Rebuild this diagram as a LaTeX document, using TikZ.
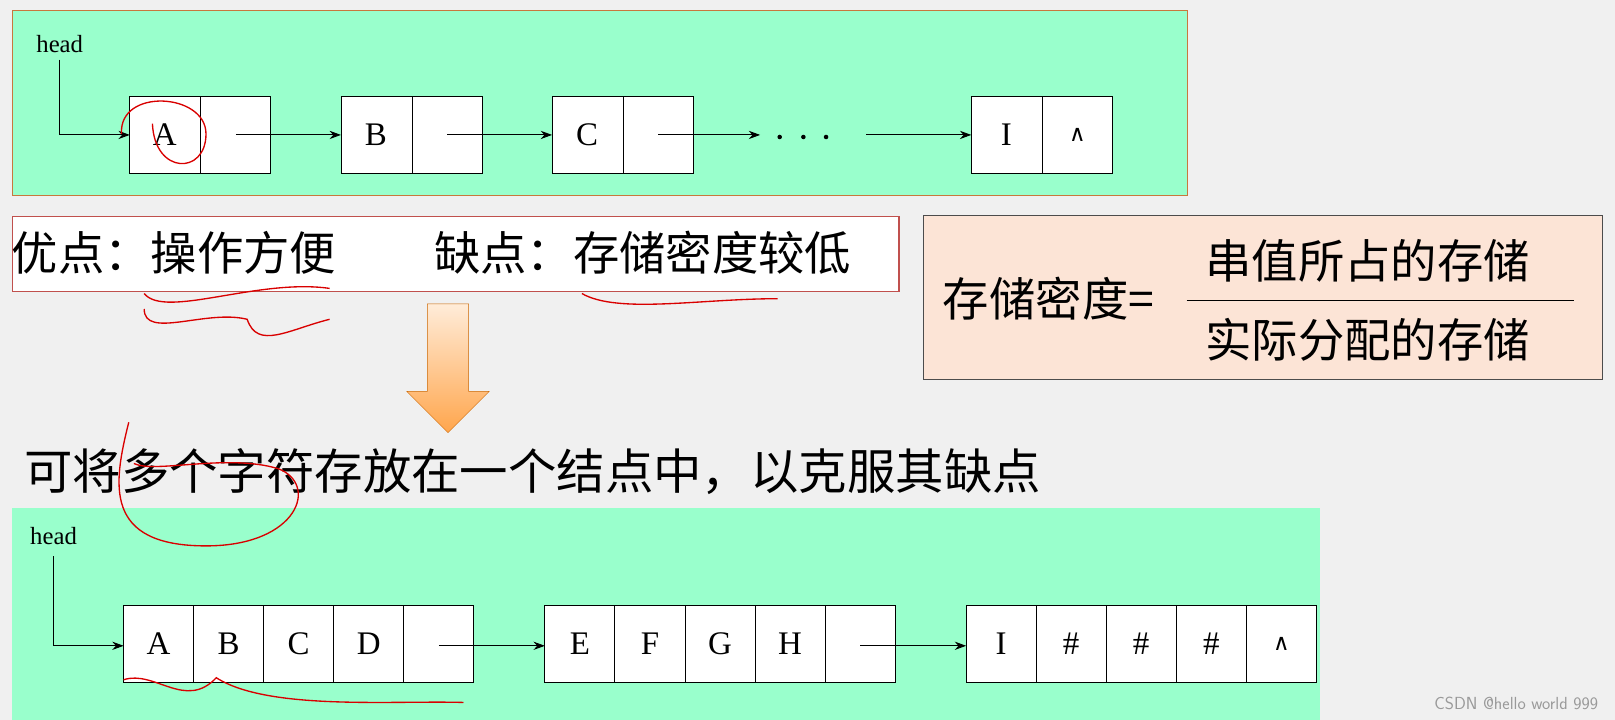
\documentclass[tikz,border=0pt]{standalone}
\usepackage{fontspec}
\setmainfont{Liberation Serif}
\newfontfamily\cjk{Noto Sans CJK SC}
\newfontfamily\dv{DejaVu Sans}
\usetikzlibrary{arrows.meta}
\definecolor{grn}{RGB}{153,255,204}
\definecolor{peach}{RGB}{252,228,214}
\definecolor{brd}{RGB}{200,120,60}
\definecolor{rbrd}{RGB}{192,80,77}
\tikzset{cell/.style={draw=black,fill=white,line width=0.8pt},
 lbl/.style={font=\fontsize{32}{32}\selectfont},
 arr/.style={-{Stealth[length=11pt,width=8pt]},line width=0.9pt},
 cn/.style={font=\cjk\fontsize{45}{45}\selectfont,anchor=west},
 scrib/.style={red!85!black,line width=1.3pt}}
\begin{document}
\begin{tikzpicture}[x=1pt,y=-1pt]
\fill[gray!12] (0,0) rectangle (1568,699);
\useasboundingbox (0,0) rectangle (1568,699);
% top box
\draw[fill=grn,draw=brd,line width=1pt] (12,10) rectangle (1153,190);
\node[font=\fontsize{24}{24}\selectfont] (h1) at (58,43) {head};
\foreach \n/\x/\t in {a/126/A,b/331/B,c/536/C,i/943/I}{
  \draw[cell] (\x,94) rectangle ++(69,74);
  \draw[cell] (\x+69,94) rectangle ++(68,74);
  \node[lbl] (\n) at (\x+34,131) {\t};
  \coordinate (\n p) at (\x+103,131);
  \coordinate (\n l) at (\x,131);
}
\node[lbl] at (1046,131) {\dv\fontsize{22}{22}\selectfont ∧};
\draw[arr] (58,58) |- (al);
\draw[arr] (ap) -- (bl);
\draw[arr] (bp) -- (cl);
\draw[arr] (cp) -- (738,131);
\foreach \x in {757,780,802} \fill (\x,133) circle (2.2);
\draw[arr] (841,131) -- (il);
% pros/cons box
\draw[fill=white,draw=rbrd,line width=1.5pt] (12,210) rectangle (873,283);
\node[cn] (pc) at (8,245) {优点：操作方便\hspace{95pt}缺点：存储密度较低};
% density box
\draw[fill=peach,draw=black!70,line width=1pt] (897,209) rectangle (1556,368);
\node[cn] at (912,290) {存储密度=};
\node[font=\cjk\fontsize{45}{45}\selectfont] at (1328,253) {串值所占的存储};
\draw[line width=1.3pt] (1152,292) -- (1528,292);
\node[font=\cjk\fontsize{45}{45}\selectfont] at (1328,330) {实际分配的存储};
% big arrow
\shade[top color=orange!15,bottom color=orange!70,draw=orange!80!black]
 (415,295) -- (455,295) -- (455,380) -- (475,380) -- (435,420) -- (395,380) -- (415,380) -- cycle;
\node[cn,font=\cjk\fontsize{47}{47}\selectfont] at (20,458) {可将多个字符存放在一个结点中，以克服其缺点};
% bottom box
\draw[fill=grn,draw=none] (12,493) rectangle (1282,699);
\node[font=\fontsize{24}{24}\selectfont] (h2) at (52,520) {head};
\foreach \n/\x/\ta/\tb/\tc/\td in {p/120/A/B/C/D,q/529/E/F/G/H,r/938/I/\#/\#/\#}{
  \foreach \k/\t in {0/\ta,1/\tb,2/\tc,3/\td}{
    \draw[cell] (\x+68*\k,588) rectangle ++(68,75);
    \node[lbl] at (\x+68*\k+34,625) {\t};}
  \draw[cell] (\x+272,588) rectangle ++(68,75);
  \coordinate (\n l) at (\x,627);
  \coordinate (\n p) at (\x+306,627);
}
\node at (1244,625) {\dv\fontsize{22}{22}\selectfont ∧};
\draw[arr] (52,540) |- (pl);
\draw[arr] (pp) -- (ql);
\draw[arr] (qp) -- (rl);
\node[font=\fontsize{17}{17}\selectfont\sffamily,text=gray!80,anchor=east] at (1555,683) {CSDN @hello world 999};
% red scribbles
\draw[scrib] (118,130) .. controls (115,85) and (200,90) .. (200,130) .. controls (200,170) and (150,170) .. (148,120);
\draw[scrib] (140,285) .. controls (160,310) and (250,270) .. (320,280);
\draw[scrib] (140,300) .. controls (140,330) and (200,300) .. (240,310) .. controls (250,340) and (280,320) .. (320,310);
\draw[scrib] (565,285) .. controls (600,305) and (680,290) .. (755,290);
\draw[scrib] (125,410) .. controls (110,470) and (100,530) .. (200,530) .. controls (290,530) and (310,470) .. (270,455) .. controls (220,440) and (150,460) .. (130,450);
\draw[scrib] (120,660) .. controls (150,650) and (180,690) .. (210,658) .. controls (260,690) and (380,680) .. (450,682);
\end{tikzpicture}
\end{document}
